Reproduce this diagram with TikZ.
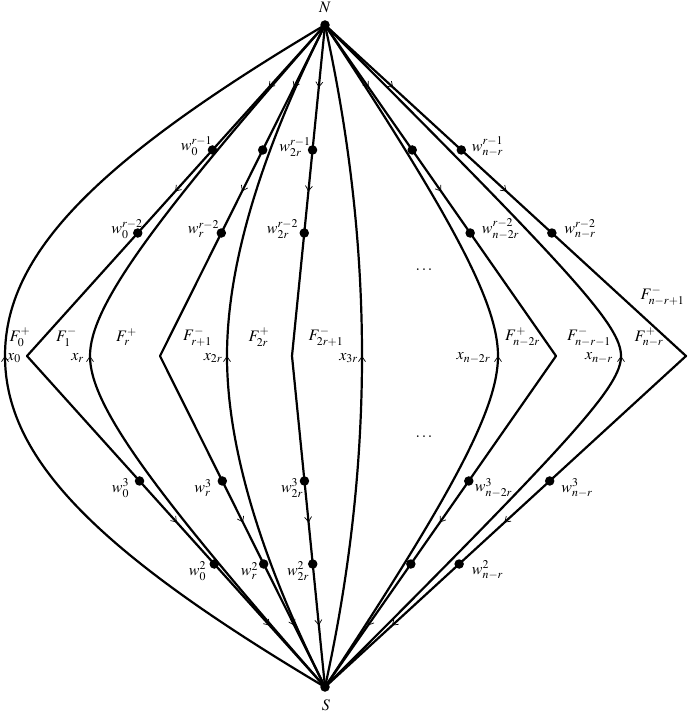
\documentclass[tikz,border=0pt]{standalone}
\usepackage{mathptmx}
\usetikzlibrary{arrows.meta,decorations.markings,calc}
\begin{document}
\begin{tikzpicture}[x=1pt,y=-1pt,
  wire/.style={line width=2.2pt,line cap=round,line join=round},
  dot/.style={circle,fill=black,inner sep=0pt,minimum size=9.5pt},
  lab/.style={inner sep=0pt,font=\fontsize{16}{19}\selectfont},
  midarrow/.style={postaction={decorate,decoration={markings,mark=at position 0.5 with {\arrow{Straight Barb[length=5pt,width=7pt,line width=0.7pt]}}}}}
]
\useasboundingbox (0,0) rectangle (690,714);

% poles
\node[dot] (N) at (325,25) {};
\node[dot] (S) at (325,687) {};

% wedge vertices
\coordinate (vA) at (27,356);
\coordinate (vB) at (160,356);
\coordinate (vC) at (292,356);
\coordinate (vD) at (556,356);
\coordinate (vE) at (686,356);

% curve midpoints
\coordinate (mA) at (5,356);
\coordinate (mB) at (90,356);
\coordinate (mC) at (227,356);
\coordinate (mD) at (362,356);
\coordinate (mE) at (498,356);
\coordinate (mF) at (621,356);

% wedge dots
\foreach \w in {A,B,C,D,E}{
  \node[dot] (\w1) at ($(N)!0.3776!(v\w)$) {};
  \node[dot] (\w2) at ($(N)!0.6284!(v\w)$) {};
  \node[dot] (\w3) at ($(v\w)!0.3776!(S)$) {};
  \node[dot] (\w4) at ($(v\w)!0.6284!(S)$) {};
  \draw[wire,midarrow] (N.center) -- (\w1.center);
  \draw[wire,midarrow] (\w1.center) -- (\w2.center);
  \draw[wire] (\w2.center) -- (v\w) -- (\w3.center);
  \draw[wire,midarrow] (\w3.center) -- (\w4.center);
  \draw[wire,midarrow] (\w4.center) -- (S.center);
}

% curves x_k (arrows pointing up)
\draw[wire,midarrow] (S.center) .. controls (94.6,550.2) and (5,457.5) .. (mA) .. controls (5,254.5) and (94.6,161.8) .. (N.center);
\draw[wire,midarrow] (S.center) .. controls (148.75,486.75) and (90,404) .. (mB) .. controls (90,308) and (148.75,225.25) .. (N.center);
\draw[wire,midarrow] (S.center) .. controls (259.7,556.3) and (227,446) .. (mC) .. controls (227,266) and (259.7,155.7) .. (N.center);
\draw[wire,midarrow] (S.center) .. controls (349.7,575) and (362,464.7) .. (mD) .. controls (362,247.3) and (349.7,137) .. (N.center);
\draw[wire,midarrow] (S.center) .. controls (454.75,490.5) and (498,407.75) .. (mE) .. controls (498,304.25) and (454.75,221.5) .. (N.center);
\draw[wire,midarrow] (S.center) .. controls (576.6,435.4) and (621,385.75) .. (mF) .. controls (621,326.25) and (576.6,276.6) .. (N.center);

% pole labels
\node[lab] (lN) at (325,7.5) {$N$};
\node[lab] (lS) at (326,705.5) {$S$};

% dot labels
\node[lab] (lA1) at (196.5,146) {$w_0^{r-1}$};
\node[lab] (lC1) at (295,147) {$w_{2r}^{r-1}$};
\node[lab] (lE1) at (487.5,146.5) {$w_{n-r}^{r-1}$};
\node[lab] (lA2) at (127,229) {$w_0^{r-2}$};
\node[lab] (lB2) at (203.5,229) {$w_r^{r-2}$};
\node[lab] (lC2) at (282.5,229) {$w_{2r}^{r-2}$};
\node[lab] (lD2) at (500.5,229) {$w_{n-2r}^{r-2}$};
\node[lab] (lE2) at (580,229) {$w_{n-r}^{r-2}$};
\node[lab] (lA3) at (120.5,488) {$w_0^3$};
\node[lab] (lB3) at (203,488) {$w_r^3$};
\node[lab] (lC3) at (292,488) {$w_{2r}^3$};
\node[lab] (lD3) at (493.5,488) {$w_{n-2r}^3$};
\node[lab] (lE3) at (577,488) {$w_{n-r}^3$};
\node[lab] (lA4) at (197.5,571) {$w_0^2$};
\node[lab] (lB4) at (249.5,571) {$w_r^2$};
\node[lab] (lC4) at (298,571) {$w_{2r}^2$};
\node[lab] (lE4) at (487.5,570) {$w_{n-r}^2$};

% face labels
\node[lab] (f1) at (20,337) {$F_0^+$};
\node[lab] (f2) at (66.5,337) {$F_1^-$};
\node[lab] (f3) at (126.5,337) {$F_r^+$};
\node[lab] (f4) at (197.5,337) {$F_{r+1}^-$};
\node[lab] (f5) at (259,337) {$F_{2r}^+$};
\node[lab] (f6) at (326,337) {$F_{2r+1}^-$};
\node[lab] (f7) at (522.5,337) {$F_{n-2r}^+$};
\node[lab] (f8) at (589,337) {$F_{n-r-1}^-$};
\node[lab] (f9) at (649,337) {$F_{n-r}^+$};
\node[lab] (f10) at (662.5,296) {$F_{n-r+1}^-$};

% x labels
\node[lab] (x1) at (14,358) {$x_0$};
\node[lab] (x2) at (77.5,358) {$x_r$};
\node[lab] (x3) at (213,358) {$x_{2r}$};
\node[lab] (x4) at (348.5,358) {$x_{3r}$};
\node[lab] (x5) at (473.5,358) {$x_{n-2r}$};
\node[lab] (x6) at (599,358) {$x_{n-r}$};

% ellipses
\node[lab] (e1) at (424,270) {$\ldots$};
\node[lab] (e2) at (424,437) {$\ldots$};
\end{tikzpicture}
\end{document}
